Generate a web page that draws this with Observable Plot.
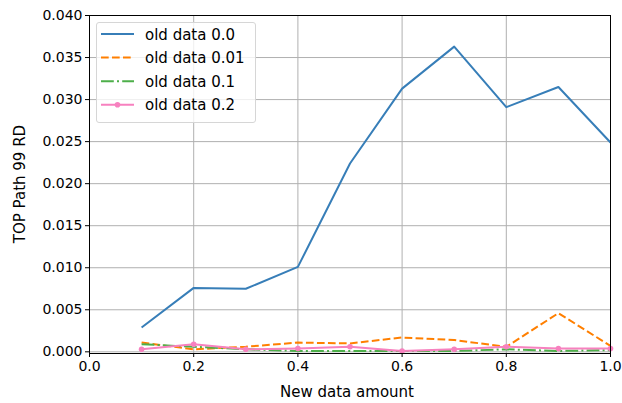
<!DOCTYPE html>
<html><head><meta charset="utf-8">
<script src="https://cdn.jsdelivr.net/npm/d3@7"></script>
<script src="https://cdn.jsdelivr.net/npm/@observablehq/plot@0.6"></script>
<style>
body{margin:0;background:#fff;}
#wrap{position:relative;width:622px;height:403px;font-family:"DejaVu Sans",sans-serif;}
#legend{position:absolute;left:96px;top:22px;width:160px;height:101px;box-sizing:border-box;border:1px solid #d6d6d6;border-radius:3px;background:rgba(255,255,255,0.8);}
</style></head>
<body><div id="wrap"></div>
<script>
const xs = [0.1,0.2,0.3,0.4,0.5,0.6,0.7,0.8,0.9,1.0];
const seriesNames = ["old data 0.0","old data 0.01","old data 0.1","old data 0.2"];
const s00  = [0.0029,0.0076,0.0075,0.0101,0.0224,0.0313,0.0363,0.0291,0.0315,0.0249];
const s001 = [0.0011,0.0003,0.0006,0.0011,0.0010,0.0017,0.0014,0.0006,0.0046,0.0007];
const s01  = [0.0009,0.0006,0.0003,0.0001,0.0001,0.0001,0.0001,0.0003,0.0001,0.0002];
const s02  = [0.0003,0.0009,0.0003,0.0004,0.0006,0.0001,0.0003,0.0006,0.0004,0.0004];
const colors = ["#377eb8","#ff7f00","#4daf4a","#f781bf"];
const dashes = [null,"7.7,3.3","12.8,3.2,2,3.2",null];
const xTicks = [0,0.2,0.4,0.6,0.8,1.0];
const yTicks = [0,0.005,0.01,0.015,0.02,0.025,0.03,0.035,0.04];

const allSeries = [s00,s001,s01,s02];
const rows = (i) => xs.map((x,j)=>({x, y: allSeries[i][j], s: seriesNames[i]}));

const marks = [
  Plot.gridX(xTicks,{stroke:"#b0b0b0",strokeOpacity:1,strokeWidth:1}),
  Plot.gridY(yTicks,{stroke:"#b0b0b0",strokeOpacity:1,strokeWidth:1}),
];
allSeries.forEach((_,i)=>{
  marks.push(Plot.line(rows(i),{x:"x",y:"y",stroke:colors[i],strokeWidth:2,strokeDasharray:dashes[i],strokeLinejoin:"round",strokeLinecap:"butt"}));
});
marks.push(Plot.dot(rows(3),{x:"x",y:"y",fill:colors[3],r:2.8,stroke:"none"}));
marks.push(Plot.axisX({ticks:xTicks,tickFormat:d3.format(".1f"),tickSize:4,tickPadding:4,fontSize:14,label:null,stroke:"#000"}));
marks.push(Plot.axisY({ticks:yTicks,tickFormat:d3.format(".3f"),tickSize:4,tickPadding:3,fontSize:14,label:null,stroke:"#000"}));
marks.push(Plot.frame({stroke:"#000",strokeWidth:1}));

const chart = Plot.plot({
  width:622,height:403,
  marginLeft:89,marginRight:12,marginTop:15,marginBottom:50,
  style:{fontFamily:"DejaVu Sans",color:"#000",background:"#fff",fontSize:"14px"},
  x:{domain:[0,1]},
  y:{domain:[-0.0002,0.040]},
  marks
});
const wrap = document.getElementById("wrap");
wrap.appendChild(chart);

// axis titles
const svg = d3.select(chart);
svg.append("text").attr("x",347).attr("y",397).attr("text-anchor","middle")
  .attr("font-size",15).attr("font-family","DejaVu Sans").attr("fill","#000").text("New data amount");
svg.append("text").attr("transform","translate(24.5,184) rotate(-90)").attr("text-anchor","middle")
  .attr("font-size",15).attr("font-family","DejaVu Sans").attr("fill","#000").text("TOP Path 99 RD");

// legend
const leg = document.createElement("div");
leg.id="legend";
wrap.appendChild(leg);
const ls = d3.select(leg).append("svg").attr("width",158).attr("height",99);
seriesNames.forEach((name,i)=>{
  const y = 11 + i*23.6;
  ls.append("line").attr("x1",4).attr("x2",37).attr("y1",y).attr("y2",y)
    .attr("stroke",colors[i]).attr("stroke-width",2).attr("stroke-dasharray",dashes[i]);
  if(i===3) ls.append("circle").attr("cx",20.5).attr("cy",y).attr("r",2.8).attr("fill",colors[i]);
  ls.append("text").attr("x",48).attr("y",y+5.5).attr("font-size",15).attr("font-family","DejaVu Sans").attr("fill","#000").text(name);
});
</script></body></html>
